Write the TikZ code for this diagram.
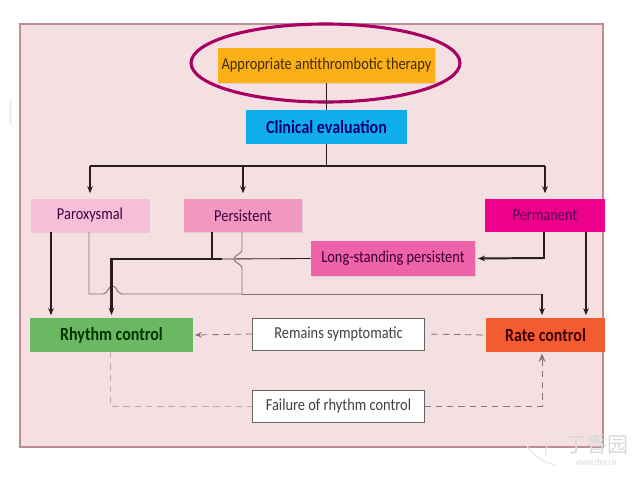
\documentclass[tikz,border=0pt]{standalone}
\usepackage{xcolor}
\usepackage{fontspec}
\setmainfont[FakeStretch=0.86]{Carlito}
\newfontfamily\cjkfont{Noto Sans CJK SC}
\usetikzlibrary{arrows.meta,shapes.geometric,shadows}
\definecolor{panelPink}{RGB}{244,223,225}
\definecolor{panelEdge}{RGB}{190,140,150}
\definecolor{ringPurple}{RGB}{168,0,98}
\definecolor{lineDark}{RGB}{40,28,30}
\definecolor{lineGray}{RGB}{135,115,118}
\definecolor{dashGray}{RGB}{140,115,118}
\definecolor{therapyAmber}{RGB}{253,176,21}
\definecolor{clinicBlue}{RGB}{14,174,235}
\definecolor{paroxPink}{RGB}{247,190,216}
\definecolor{persistPink}{RGB}{240,152,192}
\definecolor{permMagenta}{RGB}{236,0,140}
\definecolor{longPink}{RGB}{238,98,168}
\definecolor{rhythmGreen}{RGB}{106,184,98}
\definecolor{rateOrange}{RGB}{243,92,48}

\begin{document}
\begin{tikzpicture}[
      x=0.025cm, y=-0.025cm,
      box/.style={inner sep=0pt, font=\fontsize{11.9}{13}\selectfont, align=center},
      boldbox/.style={box, font=\fontsize{13.2}{14}\selectfont\bfseries},
      softbox/.style={box, drop shadow={opacity=0.18, shadow xshift=0.5pt, shadow yshift=-0.8pt}},
      whitebox/.style={box, fill=white, draw=black!60, line width=0.7pt, text=black!75,
                       drop shadow={opacity=0.4, shadow xshift=0.8pt, shadow yshift=-0.8pt}},
      arrow/.style={-{Stealth[length=5pt,width=4pt]}, shorten >=2pt, line width=1.4pt, color=lineDark},
      busline/.style={line width=1.4pt, color=lineDark},
      thinline/.style={line width=0.6pt, color=lineDark},
      grayline/.style={line width=0.7pt, color=lineGray},
      dashline/.style={line width=0.6pt, color=dashGray, dash pattern=on 4.5pt off 3.5pt}
    ]
    \useasboundingbox (0,0) rectangle (640,480);
    \fill[white] (0,0) rectangle (640,480);
    \fill[panelPink, draw=panelEdge, line width=0.8pt] (20,24) rectangle (603,447);
    \fill[panelPink!60] (9,101) rectangle (12,125);

    \node[softbox, fill=therapyAmber, text=therapyAmber!25!black, minimum width=5.42cm, minimum height=0.88cm] (therapy) at (326.5,65.5) {Appropriate antithrombotic therapy};
    \node[boldbox, fill=clinicBlue, text=blue!45!black, minimum width=4.02cm, minimum height=0.85cm] (clinical) at (326.5,127) {Clinical evaluation};
    \node[softbox, fill=paroxPink, text=violet!50!black, minimum width=2.96cm, minimum height=0.82cm] (parox) at (90,215.5) {Paroxysmal};
    \node[softbox, fill=persistPink, text=violet!50!black, minimum width=2.95cm, minimum height=0.82cm] (persist) at (243,215.5) {Persistent};
    \node[box, fill=permMagenta, text=violet!70!black, minimum width=3cm, minimum height=0.82cm] (perm) at (545,215.5) {Permanent};
    \node[softbox, fill=longPink, text=violet!45!black, minimum width=4.1cm, minimum height=0.87cm] (longst) at (393,258.5) {Long-standing persistent};
    \node[boldbox, fill=rhythmGreen, text=green!20!black, minimum width=4.08cm, minimum height=0.85cm] (rhythm) at (111.5,335) {Rhythm control};
    \node[boldbox, fill=rateOrange, text=red!25!black, minimum width=2.98cm, minimum height=0.85cm] (rate) at (545.5,335) {Rate control};
    \node[whitebox, minimum width=4.28cm, minimum height=0.8cm] (remains) at (338.5,334) {Remains symptomatic};
    \node[whitebox, minimum width=4.28cm, minimum height=0.8cm] (failure) at (338.5,406) {Failure of rhythm control};

    \node[draw=ringPurple, line width=2.2pt, ellipse, inner sep=0pt, minimum width=6.72cm, minimum height=1.95cm] (ring) at (325.5,63) {};

    \coordinate (busL) at (90,166);
    \coordinate (busC) at (326.5,166);
    \coordinate (busM) at (243,166);
    \coordinate (busR) at (545,166);
    \draw[thinline] (therapy) -- (clinical);
    \draw[thinline] (clinical) -- (busC);
    \draw[busline] (busL) -- (busR);
    \draw[arrow, line width=0.8pt, shorten >=4pt] (busL) -- (parox);
    \draw[arrow, line width=0.8pt, shorten >=4pt] (busM) -- (persist);
    \draw[arrow, line width=0.8pt, shorten >=4pt] (busR) -- (perm);

    % rhythm side
    \coordinate (paroxOut) at (51,232);
    \coordinate (rhythmIn) at (51,318);
    \draw[arrow] (paroxOut) -- (rhythmIn);
    \coordinate (persistOut) at (212,232);
    \coordinate (persistJoin) at (212,259);
    \coordinate (thickEnd) at (222,259);
    \coordinate (thickCorner) at (111.5,259);
    \draw[busline] (persistOut) -- (persistJoin);
    \draw[thinline] (thickEnd) -- (longst.west);

    % gray lines with the two hops
    \coordinate (grayA) at (89,232);
    \coordinate (grayB) at (242,232);
    \coordinate (grayC) at (242,294);
    \draw[grayline] (grayA) -- (89,294) -- (103,294) .. controls (108,294) and (108,286) .. (112.5,286) .. controls (117,286) and (117,294) .. (122,294) -- (grayC);
    \draw[grayline] (grayB) -- (242,250) .. controls (242,254) and (234,255) .. (234,259) .. controls (234,263) and (242,264) .. (242,268) -- (grayC);
    \draw[arrow, line width=1.6pt] (thickEnd) -- (thickCorner) -- (rhythm.north);
    \coordinate (rateTurn) at (542,294);
    \coordinate (rateInA) at (542,318);
    \draw[grayline] (grayC) -- (rateTurn);
    \draw[arrow] (rateTurn) -- (rateInA);

    % permanent side
    \coordinate (permOutA) at (544,232);
    \coordinate (permCorner) at (544,258);
    \coordinate (permOutB) at (586,232);
    \coordinate (rateInB) at (586,318);
    \draw[arrow] (permOutA) -- (permCorner) -- (longst.east);
    \draw[arrow] (permOutB) -- (rateInB);

    % dashed
    \draw[dashline, shorten >=2pt, shorten <=2pt] (rate.west) -- (remains.east);
    \draw[dashline, -{Stealth[length=5pt,width=4pt]}, shorten >=1pt] (remains.west) -- (rhythm.east);
    \coordinate (failL) at (110,406);
    \coordinate (failR) at (542,406);
    \coordinate (rhythmOut) at (110,352);
    \coordinate (rateInC) at (542,352);
    \draw[dashline, color=dashGray!60] (rhythmOut) -- (failL) -- (failure.west);
    \draw[dashline, -{Stealth[length=6pt,width=5pt]}, shorten >=1pt] (failure.east) -- (failR) -- (rateInC);

    % faint site mark
    \draw[black!10, line width=0.8pt] (526,444) .. controls (532,458) and (548,462) .. (556,466);
    \draw[black!10, line width=0.8pt] (558,434) .. controls (548,440) and (544,450) .. (546,456);
    \node[text=black!15, font=\cjkfont\fontsize{15}{16}\selectfont, inner sep=0pt] (mark) at (597,445) {丁香园};
    \node[text=black!15, font=\fontsize{7}{8}\selectfont, inner sep=0pt] (markurl) at (596,463) {www.dxy.cn};
  \end{tikzpicture}
\end{document}
